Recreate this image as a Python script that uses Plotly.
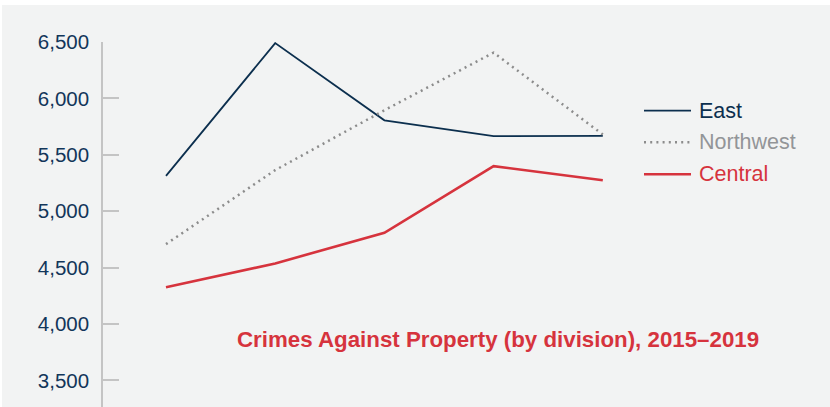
import plotly.graph_objects as go

years = [2015, 2016, 2017, 2018, 2019]
east = [5313, 6490, 5806, 5665, 5668]
northwest = [4708, 5364, 5895, 6406, 5680]
central = [4325, 4537, 4808, 5399, 5275]

series_names = ["East", "Northwest", "Central"]
series_values = [east, northwest, central]
line_colors = ["#0c2f4e", "#8c8c8c", "#d6333d"]
text_colors = ["#0c2f4e", "#939598", "#d6333d"]
line_widths = [1.8, 2.5, 2.6]
line_dashes = ["solid", "2px,4.2px", "solid"]

title_text = "Crimes Against Property (by division), 2015–2019"
ytick_vals = [3500, 4000, 4500, 5000, 5500, 6000, 6500]

W, H = 830, 407
ML, MR, MT, MB = 103, 0, 42, 0
PW, PH = W - ML - MR, H - MT - MB


def px2x(px):
    return (px - ML) / PW


def py2y(py):
    return (H - MB - py) / PH


BG = "#f2f3f3"
FONT = "Liberation Sans, Arial, Helvetica, sans-serif"

fig = go.Figure()
for name, vals, col, w, d in zip(series_names, series_values, line_colors, line_widths, line_dashes):
    fig.add_trace(go.Scatter(x=years, y=vals, mode="lines", name=name,
                             line=dict(color=col, width=w, dash=d),
                             showlegend=False, hoverinfo="x+y+name"))

shapes = []
annotations = []
# custom legend
leg_y = [110.7, 142.3, 174.3]
for name, col, tcol, w, d, yy in zip(series_names, line_colors, text_colors, line_widths, line_dashes, leg_y):
    shapes.append(dict(type="line", xref="paper", yref="paper",
                       x0=px2x(644), x1=px2x(691), y0=py2y(yy), y1=py2y(yy),
                       line=dict(color=col, width=w, dash=d)))
    annotations.append(dict(text=name, xref="paper", yref="paper",
                            x=px2x(697), y=py2y(yy), xanchor="left", yanchor="middle",
                            showarrow=False, font=dict(family=FONT, size=21.5, color=tcol)))

annotations.append(dict(text="<b>" + title_text + "</b>", xref="paper", yref="paper",
                        x=px2x(235), y=py2y(339.5), xanchor="left", yanchor="middle",
                        showarrow=False, font=dict(family=FONT, size=22.3, color="#d6333d")))

# white border strips on top and left of the picture
shapes.append(dict(type="rect", xref="paper", yref="paper", layer="above",
                   x0=px2x(0), x1=px2x(W), y0=py2y(5), y1=py2y(0),
                   fillcolor="white", line=dict(width=0)))
shapes.append(dict(type="rect", xref="paper", yref="paper", layer="above",
                   x0=px2x(0), x1=px2x(2), y0=py2y(H), y1=py2y(0),
                   fillcolor="white", line=dict(width=0)))

fig.update_layout(
    width=W, height=H,
    margin=dict(l=ML, r=MR, t=MT, b=MB, pad=0),
    paper_bgcolor=BG, plot_bgcolor=BG,
    shapes=shapes, annotations=annotations,
    showlegend=False,
    xaxis=dict(visible=False, range=[2015 - 63 / 109.2, 2015 + (W - 166) / 109.2]),
    yaxis=dict(range=[3264, 6500], tickvals=ytick_vals, tickformat=",",
               showgrid=False, zeroline=False,
               showline=True, linecolor="#c4c4c4", linewidth=1.5,
               ticks="inside", ticklen=16, tickcolor="#c4c4c4", tickwidth=1.5,
               ticklabelstandoff=8,
               tickfont=dict(family=FONT, size=20.5, color="#12365a")),
)

fig.write_html("out.html", config={"displayModeBar": False},
               post_script="document.body.style.margin='0px';")
